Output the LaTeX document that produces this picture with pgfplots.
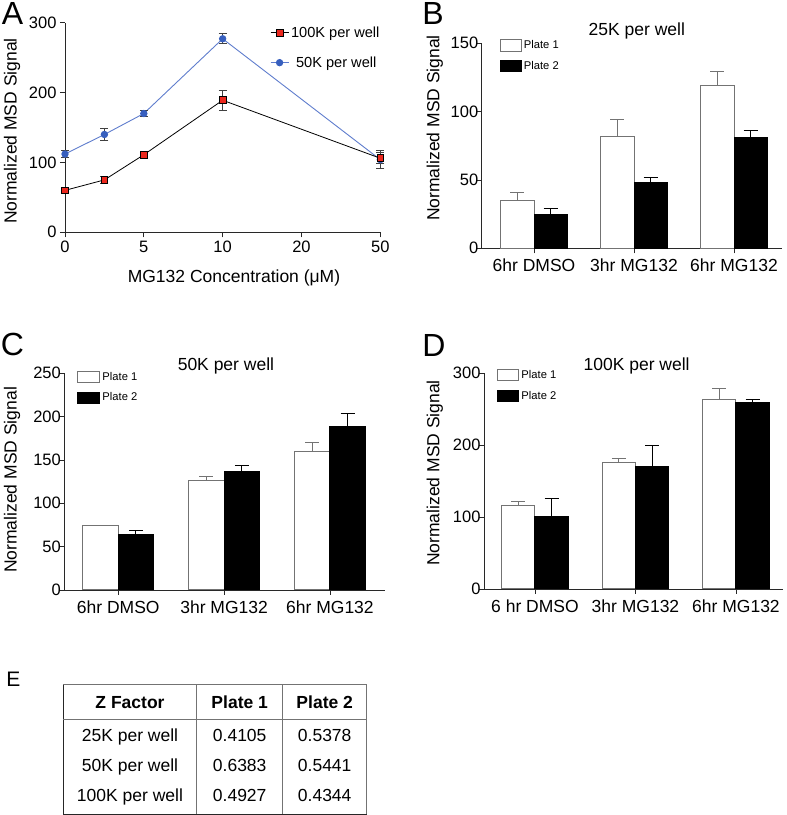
\documentclass[border=0pt]{standalone}
\usepackage{fontspec}
\setmainfont{Liberation Sans}
\usepackage{pgfplots}
\pgfplotsset{compat=1.18}
\definecolor{redsq}{RGB}{235,40,30}
\definecolor{bluedot}{RGB}{55,95,190}
\definecolor{blueline}{RGB}{95,125,205}
\definecolor{edgegray}{RGB}{115,115,115}
\definecolor{axgray}{RGB}{40,40,40}
\newcommand{\fs}[1]{\fontsize{#1}{#1}\selectfont}
\pgfplotsset{
  prism/.style={
    scale only axis,
    axis x line*=bottom, axis y line*=left,
    axis line style={-, line width=0.9bp, draw=axgray},
    tick align=outside,
    major tick length=5bp,
    tick style={line width=0.9bp, axgray},
    /pgf/number format/assume math mode=true,
    yticklabel style={font=\fs{16.5bp}},
    xticklabel style={font=\fs{16.5bp}},
    ylabel style={font=\fs{17.5bp}},
    title style={font=\fs{17.5bp}, anchor=base},
    clip=false,
    ymin=0,
  },
  barpanel/.style={
    prism,
    ybar=0pt,
    xtick={0,1,2},
    xticklabel style={font=\fs{17.5bp}, yshift=-2.5bp},
    yticklabel style={xshift=5bp},
    legend cell align=left,
    legend style={draw=none, fill=none, inner sep=0pt, anchor=north west, font=\fs{11.2bp}, row sep=7bp},
  },
  boxlegend/.style 2 args={legend image code/.code={\draw[##1] (0bp,-#2) rectangle (#1,#2);}},
  p1/.style={fill=white, draw=edgegray, line width=1bp,
    error bars/y dir=plus, error bars/y explicit,
    error bars/error bar style={edgegray, line width=1bp},
    error bars/error mark options={rotate=90, mark size=7bp, edgegray, line width=1bp}},
  p2/.style={fill=black, draw=black, line width=1bp,
    error bars/y dir=plus, error bars/y explicit,
    error bars/error bar style={black, line width=1bp},
    error bars/error mark options={rotate=90, mark size=7bp, black, line width=1bp}},
}
\begin{document}
\begin{tikzpicture}
\useasboundingbox (0,0) rectangle (787bp,815bp);
% ---------------- Panel A ----------------
\begin{axis}[prism,
  at={(65bp,582.7bp)}, anchor=south west,
  width=315.3bp, height=209.6bp,
  xmin=0, xmax=4, ymax=300,
  xtick={0,1,2,3,4}, xticklabels={0,5,10,20,50},
  ytick={0,100,200,300},
  xlabel={MG132 Concentration (μM)},
  xlabel style={font=\fs{17.5bp}, at={(axis description cs:0.536,-0.240)}, anchor=base},
  ylabel={Normalized MSD Signal},
  ylabel style={at={(axis description cs:-0.168,0.483)}, anchor=center},
  reverse legend,
  legend cell align=left,
  legend style={at={(axis description cs:0.650,0.992)}, anchor=north west, draw=none, fill=none, inner sep=0pt, font=\fs{14.6bp}, row sep=14bp},
  legend image code/.code={\draw[mark repeat=2,mark phase=2,#1] plot coordinates {(0bp,0bp) (9bp,0bp) (18bp,0bp)};},
]
\addplot[blueline, line width=0.9bp, mark=*, mark size=3.2bp, mark options={fill=bluedot, draw=bluedot},
  error bars/.cd, y dir=both, y explicit,
  error bar style={line width=0.8bp, black!75},
  error mark options={rotate=90, mark size=4bp, line width=0.8bp, black!75}]
  coordinates {(0,112) +- (0,5) (0.5,140) +- (0,8.5) (1,170) +- (0,4) (2,277) +- (0,7) (4,104) +- (0,13)};
\addlegendentry{\hspace*{5bp}50K per well}
\addplot[black, line width=0.8bp, mark=square*, mark size=3.4bp, mark options={fill=redsq, draw=black},
  error bars/.cd, y dir=both, y explicit,
  error bar style={line width=0.8bp, black!75},
  error mark options={rotate=90, mark size=4bp, line width=0.8bp, black!75}]
  coordinates {(0,60) +- (0,3) (0.5,75) +- (0,5) (1,111) +- (0,4) (2,189) +- (0,14.5) (4,106) +- (0,8)};
\addlegendentry{100K per well}
\end{axis}
% ---------------- Panel B ----------------
\begin{axis}[barpanel,
  at={(481.7bp,566.7bp)}, anchor=south west,
  width=300bp, height=205bp, bar width=33.3bp,
  xmin=-0.523, xmax=2.477, ymax=150, ytick={0,50,100,150},
  xticklabels={6hr DMSO,3hr MG132,6hr MG132},
  ylabel={Normalized MSD Signal},
  ylabel style={at={(axis description cs:-0.156,0.587)}, anchor=center},
  title={25K per well}, title style={at={(axis description cs:0.517,1.008)}},
  legend style={at={(axis description cs:0.061,1.024)}},
]
\addplot[p1, boxlegend={20.7bp}{5.8bp}] coordinates {(0,35) +- (0,6) (1,82) +- (0,12) (2,119) +- (0,10)};
\addlegendentry{Plate 1}
\addplot[p2, boxlegend={20.7bp}{5.8bp}] coordinates {(0,25) +- (0,4) (1,48) +- (0,4) (2,81) +- (0,5)};
\addlegendentry{Plate 2}
\end{axis}
% ---------------- Panel C ----------------
\begin{axis}[barpanel,
  at={(64.3bp,225bp)}, anchor=south west,
  width=320.7bp, height=216.7bp, bar width=35.4bp,
  xmin=-0.510, xmax=2.520, ymax=250, ytick={0,50,100,150,200,250},
  xticklabels={6hr DMSO,3hr MG132,6hr MG132},
  ylabel={Normalized MSD Signal},
  ylabel style={at={(axis description cs:-0.163,0.508)}, anchor=center},
  title={50K per well}, title style={at={(axis description cs:0.504,0.984)}},
  legend style={at={(axis description cs:0.0405,1.015)}},
]
\addplot[p1, boxlegend={22bp}{5.5bp}] coordinates {(0,74) +- (0,0.5) (1,126) +- (0,5.5) (2,160) +- (0,10)};
\addlegendentry{Plate 1}
\addplot[p2, boxlegend={22bp}{5.5bp}] coordinates {(0,64.5) +- (0,4.5) (1,136.5) +- (0,7) (2,189) +- (0,15)};
\addlegendentry{Plate 2}
\end{axis}
% ---------------- Panel D ----------------
\begin{axis}[barpanel,
  at={(484bp,226bp)}, anchor=south west,
  width=299.3bp, height=215.7bp, bar width=33.4bp,
  xmin=-0.507, xmax=2.471, ymax=300, ytick={0,100,200,300},
  xticklabels={6 hr DMSO,3hr MG132,6hr MG132},
  ylabel={Normalized MSD Signal},
  ylabel style={at={(axis description cs:-0.164,0.538)}, anchor=center},
  title={100K per well}, title style={at={(axis description cs:0.510,0.984)}},
  legend style={at={(axis description cs:0.0424,1.023)}},
]
\addplot[p1, boxlegend={21.6bp}{5.5bp}] coordinates {(0,116) +- (0,5.5) (1,175.5) +- (0,6.5) (2,263) +- (0,16)};
\addlegendentry{Plate 1}
\addplot[p2, boxlegend={21.6bp}{5.5bp}] coordinates {(0,101.5) +- (0,24) (1,170) +- (0,30) (2,259) +- (0,5)};
\addlegendentry{Plate 2}
\end{axis}
% ---------------- Panel letters ----------------
\node[font=\fs{32bp}, inner sep=0pt] at (12.5bp,801.7bp) {A};
\node[font=\fs{32bp}, inner sep=0pt] at (433bp,801.7bp) {B};
\node[font=\fs{32bp}, inner sep=0pt] at (12.5bp,471bp) {C};
\node[font=\fs{32bp}, inner sep=0pt] at (434bp,470bp) {D};
\node[font=\fs{21bp}, inner sep=0pt] at (13.5bp,135.5bp) {E};
% ---------------- Panel E table ----------------
\draw[black!55, line width=1bp] (63.3bp,130bp) -- (366.7bp,130bp) -- (366.7bp,0.7bp);
\draw[black!85, line width=1bp] (63.3bp,130bp) -- (63.3bp,0.7bp) -- (366.7bp,0.7bp);
\draw[black!55, line width=1bp] (196.7bp,130bp) -- (196.7bp,0.7bp);
\draw[black!55, line width=1bp] (282.7bp,130bp) -- (282.7bp,0.7bp);
\draw[black!55, line width=1bp] (63.3bp,95bp) -- (366.7bp,95bp);
\begin{scope}[every node/.style={font=\fs{17.5bp}, anchor=base, inner sep=0pt}]
\node at (130bp,106.7bp) {\bfseries Z Factor};
\node at (239.7bp,106.7bp) {\bfseries Plate 1};
\node at (324.7bp,106.7bp) {\bfseries Plate 2};
\node at (130bp,73.3bp) {25K per well};
\node at (239.7bp,73.3bp) {0.4105};
\node at (324.7bp,73.3bp) {0.5378};
\node at (130bp,43.3bp) {50K per well};
\node at (239.7bp,43.3bp) {0.6383};
\node at (324.7bp,43.3bp) {0.5441};
\node at (130bp,13.3bp) {100K per well};
\node at (239.7bp,13.3bp) {0.4927};
\node at (324.7bp,13.3bp) {0.4344};
\end{scope}
\end{tikzpicture}
\end{document}
